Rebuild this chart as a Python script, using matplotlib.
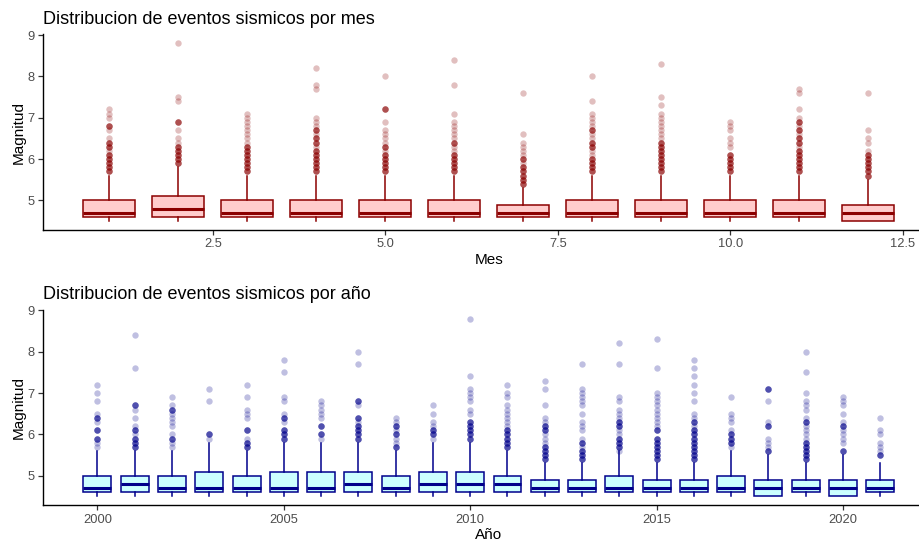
import matplotlib.pyplot as plt

plt.rcParams["font.family"] = ["Liberation Sans", "DejaVu Sans"]

# ---- Magnitud por mes -------------------------------------------------------
meses = [1, 2, 3, 4, 5, 6, 7, 8, 9, 10, 11, 12]
mes_q1 = [4.6, 4.6, 4.6, 4.6, 4.6, 4.6, 4.6, 4.6, 4.6, 4.6, 4.6, 4.5]
mes_med = [4.7, 4.8, 4.7, 4.7, 4.7, 4.7, 4.7, 4.7, 4.7, 4.7, 4.7, 4.7]
mes_q3 = [5.0, 5.1, 5.0, 5.0, 5.0, 5.0, 4.9, 5.0, 5.0, 5.0, 5.0, 4.9]
mes_wlo = [4.5, 4.5, 4.5, 4.5, 4.5, 4.5, 4.5, 4.5, 4.5, 4.5, 4.5, 4.5]
mes_whi = [5.6, 5.8, 5.6, 5.6, 5.6, 5.6, 5.3, 5.6, 5.6, 5.6, 5.6, 5.5]
# valores atipicos aislados
mes_out = [
    [6.2, 6.5, 6.7, 7.0, 7.1, 7.2],
    [6.4, 6.5, 6.7, 7.4, 7.5, 8.8],
    [6.4, 6.5, 6.6, 6.7, 6.8, 6.9, 7.0, 7.1],
    [6.3, 6.6, 6.8, 6.9, 7.0, 7.7, 7.8, 8.2],
    [6.2, 6.4, 6.5, 6.6, 6.7, 6.9, 8.0],
    [6.2, 6.3, 6.5, 6.6, 6.7, 6.8, 6.9, 7.1, 7.8, 8.4],
    [5.9, 6.1, 6.2, 6.3, 6.4, 6.6, 7.6],
    [6.1, 6.2, 6.5, 6.6, 6.8, 6.9, 7.0, 7.1, 7.4, 8.0],
    [6.5, 6.6, 6.7, 6.8, 6.9, 7.0, 7.1, 7.3, 7.5, 8.3],
    [6.3, 6.4, 6.5, 6.7, 6.8, 6.9],
    [6.3, 6.6, 6.8, 7.0, 7.2, 7.6, 7.7],
    [6.2, 6.4, 6.5, 6.7, 7.6],
]
# valores atipicos repetidos (varios sismos con la misma magnitud)
mes_out_rep = [
    [5.7, 5.8, 5.9, 6.0, 6.1, 6.3, 6.4, 6.8],
    [5.9, 6.0, 6.1, 6.2, 6.3, 6.9],
    [5.7, 5.8, 5.9, 6.0, 6.1, 6.2, 6.3],
    [5.7, 5.8, 5.9, 6.0, 6.1, 6.2, 6.4, 6.5, 6.7],
    [5.7, 5.8, 5.9, 6.0, 6.1, 6.3, 7.2],
    [5.7, 5.8, 5.9, 6.0, 6.1, 6.4],
    [5.4, 5.5, 5.6, 5.7, 5.8, 6.0],
    [5.7, 5.8, 5.9, 6.0, 6.3, 6.4, 6.7],
    [5.7, 5.8, 5.9, 6.0, 6.1, 6.2, 6.3, 6.4],
    [5.7, 5.8, 5.9, 6.0, 6.1],
    [5.7, 5.8, 5.9, 6.0, 6.1, 6.2, 6.4, 6.5, 6.7, 6.9],
    [5.6, 5.7, 5.8, 5.9, 6.0, 6.1],
]

# ---- Magnitud por año -------------------------------------------------------
anios = list(range(2000, 2022))
anio_q1 = [4.6, 4.6, 4.6, 4.6, 4.6, 4.6, 4.6, 4.6, 4.6, 4.6, 4.6,
           4.6, 4.6, 4.6, 4.6, 4.6, 4.6, 4.6, 4.5, 4.6, 4.5, 4.6]
anio_med = [4.7, 4.8, 4.7, 4.7, 4.7, 4.7, 4.7, 4.8, 4.7, 4.8, 4.8,
            4.8, 4.7, 4.7, 4.7, 4.7, 4.7, 4.7, 4.7, 4.7, 4.7, 4.7]
anio_q3 = [5.0, 5.0, 5.0, 5.1, 5.0, 5.1, 5.1, 5.1, 5.0, 5.1, 5.1,
           5.0, 4.9, 4.9, 5.0, 4.9, 4.9, 5.0, 4.9, 4.9, 4.9, 4.9]
anio_wlo = [4.5] * 22
anio_whi = [5.6, 5.6, 5.6, 5.8, 5.6, 5.8, 5.8, 5.8, 5.6, 5.8, 5.8,
            5.6, 5.3, 5.3, 5.6, 5.3, 5.3, 5.6, 5.5, 5.3, 5.5, 5.3]
anio_out = [
    [5.7, 5.8, 6.3, 6.5, 6.8, 7.0, 7.2],
    [6.0, 6.2, 6.4, 6.6, 7.6, 8.4],
    [5.7, 5.8, 6.0, 6.2, 6.3, 6.4, 6.5, 6.7, 6.9],
    [5.9, 6.8, 7.1],
    [5.9, 6.4, 6.5, 6.6, 6.9, 7.2],
    [6.3, 6.5, 6.8, 6.9, 7.5, 7.8],
    [5.9, 6.4, 6.5, 6.6, 6.7, 6.8],
    [6.3, 6.7, 7.7, 8.0],
    [5.8, 5.9, 6.1, 6.3, 6.4],
    [5.9, 6.2, 6.3, 6.5, 6.7],
    [6.5, 6.6, 6.8, 6.9, 7.0, 7.1, 7.4, 8.8],
    [6.2, 6.3, 6.4, 6.5, 6.6, 6.7, 6.9, 7.0, 7.2],
    [5.8, 5.9, 6.0, 6.3, 6.4, 6.7, 7.1, 7.3],
    [5.7, 5.9, 6.1, 6.2, 6.3, 6.5, 6.7, 6.8, 6.9, 7.0, 7.1, 7.7],
    [5.6, 6.0, 6.1, 6.4, 6.5, 6.6, 6.8, 6.9, 7.7, 8.2],
    [6.2, 6.3, 6.4, 6.5, 6.6, 6.7, 6.8, 6.9, 7.0, 7.6, 8.3],
    [6.2, 6.4, 6.5, 6.8, 7.0, 7.2, 7.4, 7.6, 7.8],
    [5.7, 6.1, 6.3, 6.4, 6.5, 6.9],
    [5.7, 5.8, 5.9, 6.3, 6.8],
    [5.9, 6.0, 6.1, 6.2, 6.4, 6.6, 6.7, 6.8, 7.0, 7.5, 8.0],
    [5.8, 5.9, 6.0, 6.1, 6.3, 6.5, 6.7, 6.8, 6.9],
    [5.6, 5.7, 5.8, 6.0, 6.1, 6.4],
]
anio_out_rep = [
    [5.9, 6.1, 6.4],
    [5.7, 5.8, 5.9, 6.1, 6.7],
    [5.9, 6.6],
    [6.0],
    [5.7, 5.8, 6.1],
    [5.9, 6.0, 6.1, 6.4],
    [6.0, 6.2],
    [5.9, 6.0, 6.1, 6.2, 6.4, 6.8],
    [5.7, 6.0, 6.2],
    [6.0, 6.1],
    [5.9, 6.0, 6.1, 6.2, 6.3],
    [5.7, 5.8, 5.9, 6.0, 6.1],
    [5.4, 5.5, 5.6, 5.7, 6.1, 6.2],
    [5.4, 5.5, 5.6, 5.8],
    [5.7, 5.8, 5.9, 6.2, 6.3],
    [5.4, 5.5, 5.6, 5.7, 5.8, 5.9, 6.1],
    [5.4, 5.5, 5.6, 5.7, 5.8, 5.9, 6.0, 6.1, 6.3],
    [5.8, 5.9, 6.0],
    [5.6, 6.2, 7.1],
    [5.4, 5.5, 5.6, 5.7, 5.8, 6.3],
    [5.6, 6.2],
    [5.5],
]

REP = 4  # peso visual de los atipicos repetidos


def build_stats(q1, med, q3, wlo, whi, out, out_rep):
    stats = []
    for i in range(len(q1)):
        stats.append({
            "q1": q1[i], "med": med[i], "q3": q3[i],
            "whislo": wlo[i], "whishi": whi[i],
            "fliers": out[i] + out_rep[i] * REP,
        })
    return stats


def draw_panel(ax, positions, stats, fill, edge):
    ax.bxp(
        stats, positions=positions, widths=0.75, patch_artist=True,
        showcaps=False, showfliers=True,
        boxprops=dict(facecolor=fill, edgecolor=edge, linewidth=1.1),
        medianprops=dict(color=edge, linewidth=2.2, solid_capstyle="butt"),
        whiskerprops=dict(color=edge, linewidth=1.1),
        flierprops=dict(marker="o", markerfacecolor=edge, markeredgewidth=0,
                        markersize=4.6, alpha=0.25, linestyle="none"),
    )
    ax.set_ylim(4.285, 9.015)
    ax.set_yticks([5, 6, 7, 8, 9])
    ax.set_yticklabels(["5", "6", "7", "8", "9"])
    for s in ["top", "right"]:
        ax.spines[s].set_visible(False)
    for s in ["left", "bottom"]:
        ax.spines[s].set_linewidth(1.0)
        ax.spines[s].set_color("black")
    ax.tick_params(axis="both", length=3.5, width=0.9, color="#333333",
                   labelcolor="#4D4D4D", labelsize=9.3, pad=2.5)
    ax.set_ylabel("Magnitud", fontsize=11, labelpad=1)


fig = plt.figure(figsize=(9.2, 5.44), dpi=100)

ax1 = fig.add_axes([0.0467, 0.5772, 0.9693, 0.3596])
draw_panel(ax1, meses,
           build_stats(mes_q1, mes_med, mes_q3, mes_wlo, mes_whi, mes_out, mes_out_rep),
           "#FFCCCC", "#8B0000")
ax1.set_xlim(0.0375, 12.9625)
ax1.set_xticks([2.5, 5.0, 7.5, 10.0, 12.5])
ax1.set_xticklabels(["2.5", "5.0", "7.5", "10.0", "12.5"])
ax1.set_xlabel("Mes", fontsize=11, labelpad=2)

ax2 = fig.add_axes([0.0467, 0.0711, 0.9693, 0.3596])
draw_panel(ax2, anios,
           build_stats(anio_q1, anio_med, anio_q3, anio_wlo, anio_whi, anio_out, anio_out_rep),
           "#CCFFFF", "#00008B")
ax2.set_xlim(1998.5375, 2022.4625)
ax2.set_xticks([2000, 2005, 2010, 2015, 2020])
ax2.set_xticklabels(["2000", "2005", "2010", "2015", "2020"])
ax2.set_xlabel("Año", fontsize=11, labelpad=2)

fig.text(0.0467, (544 - 24) / 544, "Distribucion de eventos sismicos por mes",
         fontsize=13, va="baseline", ha="left")
fig.text(0.0467, (544 - 299) / 544, "Distribucion de eventos sismicos por año",
         fontsize=13, va="baseline", ha="left")

fig.savefig("out.png", dpi=100)
